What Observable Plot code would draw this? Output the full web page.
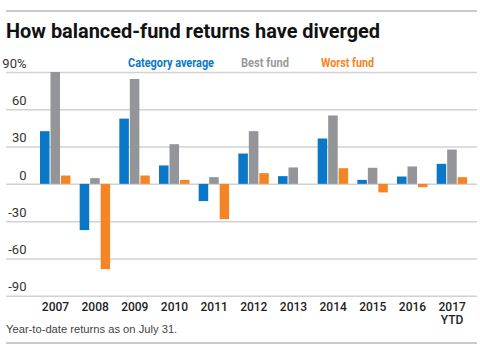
<!DOCTYPE html>
<html>
<head>
<meta charset="utf-8">
<script src="https://cdn.jsdelivr.net/npm/d3@7"></script>
<script src="https://cdn.jsdelivr.net/npm/@observablehq/plot@0.6"></script>
<style>
  html, body { margin: 0; padding: 0; background: #fff; }
  #wrap { position: relative; width: 480px; height: 353px; overflow: hidden; font-family: Roboto, "Liberation Sans", sans-serif; }
  .rule { position: absolute; left: 6px; width: 471px; height: 0; border-top: 2px solid #c9c9c9; }
  #title { position: absolute; left: 6px; top: 18px; margin: 0; font-size: 21px; line-height: 26px; font-weight: bold; color: #111; white-space: nowrap; transform-origin: 0 0; }
  #legend { position: absolute; top: 55px; left: 0; font-size: 13px; line-height: 15px; font-weight: bold; white-space: nowrap; }
  #legend span { position: absolute; top: 0; transform-origin: 0 0; }
  #chart { position: absolute; left: 0; top: 50px; }
  #caption { position: absolute; left: 6px; top: 323px; font-family: "Liberation Sans", Arial, sans-serif; font-size: 11.2px; color: #444; white-space: nowrap; }
</style>
</head>
<body>
<div id="wrap">
  <div class="rule" style="top:10px"></div>
  <h2 id="title">How balanced-fund returns have diverged</h2>
  <div id="legend"></div>
  <div id="chart"></div>
  <div id="caption">Year-to-date returns as on July 31.</div>
  <div class="rule" style="top:342px"></div>
</div>
<script>
const years = ["2007", "2008", "2009", "2010", "2011", "2012", "2013", "2014", "2015", "2016", "2017"];
const yearLabels = ["2007", "2008", "2009", "2010", "2011", "2012", "2013", "2014", "2015", "2016", "2017\nYTD"];
const categoryAverage = [42.4, -37.2, 52.5, 14.8, -13.9, 24.4, 6.2, 36.5, 3.2, 5.9, 16.1];
const bestFund = [90, 4.6, 84.4, 31.9, 5.4, 42.4, 13.2, 55, 12.9, 14, 27.6];
const worstFund = [6.7, -68.6, 6.7, 3.2, -28.4, 8.6, 0, 12.6, -6.9, -2.7, 5.4];
const seriesNames = ["Category average", "Best fund", "Worst fund"];
const seriesColors = ["#0a78c6", "#939598", "#f58524"];
const yTicks = [90, 60, 30, 0, -30, -60, -90];

const data = years.map((year, i) => ({
  year,
  avg: categoryAverage[i],
  best: bestFund[i],
  worst: worstFund[i]
}));
const labelOf = new Map(years.map((y, i) => [y, yearLabels[i]]));

// condense text horizontally to the reference's narrow typeface widths
function fitWidth(el, target) {
  const w = el.getBoundingClientRect().width;
  if (w > 0) el.style.transform = `scaleX(${target / w})`;
}

// legend
const legendX = [128, 241, 321];
const legendW = [86, 48, 53];
const legend = document.getElementById("legend");
seriesNames.forEach((name, i) => {
  const s = document.createElement("span");
  s.textContent = name;
  s.style.left = legendX[i] + "px";
  s.style.color = i === 1 ? "#9a9a9a" : seriesColors[i];
  legend.appendChild(s);
  fitWidth(s, legendW[i]);
});
fitWidth(document.getElementById("title"), 374);

const chart = Plot.plot({
  width: 480,
  height: 275,
  marginLeft: 6,
  marginRight: 3,
  marginTop: 22,
  marginBottom: 29.3,
  style: { fontFamily: "Roboto, 'Liberation Sans', sans-serif", background: "transparent", overflow: "visible" },
  x: { type: "band", domain: years, paddingInner: 0.22, paddingOuter: 0.547, align: 0.772, round: false },
  y: { domain: [-90, 90] },
  marks: [
    Plot.ruleY(yTicks, { stroke: "#d2d2d2", strokeWidth: 1.5 }),
    Plot.barY(data, { x: "year", y: "avg", fill: seriesColors[0], insetLeft: 0.5, insetRight: 20.9 }),
    Plot.barY(data, { x: "year", y: "best", fill: seriesColors[1], insetLeft: 11, insetRight: 10.4 }),
    Plot.barY(data, { x: "year", y: "worst", fill: seriesColors[2], insetLeft: 21.5, insetRight: 0 }),
    Plot.axisY({
      anchor: "left", ticks: yTicks, tickSize: 0, tickPadding: 0, dx: 20, dy: -9,
      tickFormat: d => d === 90 ? "90%" : String(d),
      fontSize: 13, fill: "#333", textAnchor: "end", label: null
    }),
    Plot.axisX({
      anchor: "bottom", tickSize: 0, tickPadding: 6,
      tickFormat: d => labelOf.get(d),
      fontSize: 12, fontWeight: 500, fill: "#222", label: null, lineHeight: 1.05
    })
  ]
});
document.getElementById("chart").appendChild(chart);
</script>
</body>
</html>
